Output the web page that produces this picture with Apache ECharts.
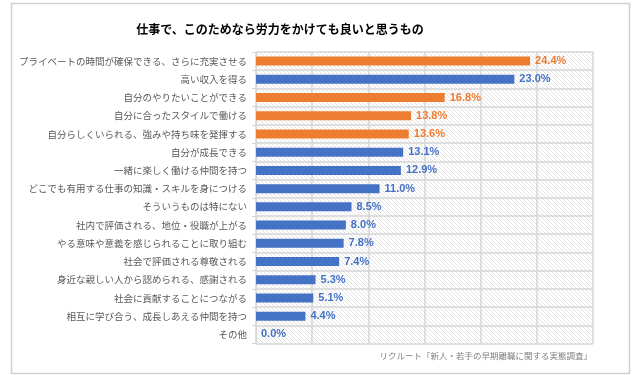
<!DOCTYPE html>
<html><head><meta charset="utf-8">
<script src="https://cdn.jsdelivr.net/npm/echarts@6/dist/echarts.min.js"></script>
<style>html,body{margin:0;padding:0;background:#fff}#c{width:632px;height:375px}</style>
</head><body><div id="c"></div>
<script>
const titleText = '仕事で、このためなら労力をかけても良いと思うもの';
const sourceText = 'リクルート「新人・若手の早期離職に関する実態調査」';
const categories = [
  'プライベートの時間が確保できる、さらに充実させる',
  '高い収入を得る',
  '自分のやりたいことができる',
  '自分に合ったスタイルで働ける',
  '自分らしくいられる、強みや持ち味を発揮する',
  '自分が成長できる',
  '一緒に楽しく働ける仲間を持つ',
  'どこでも有用する仕事の知識・スキルを身につける',
  'そういうものは特にない',
  '社内で評価される、地位・役職が上がる',
  'やる意味や意義を感じられることに取り組む',
  '社会で評価される尊敬される',
  '身近な親しい人から認められる、感謝される',
  '社会に貢献することにつながる',
  '相互に学び合う、成長しあえる仲間を持つ',
  'その他'
];
const values = [24.4, 23.0, 16.8, 13.8, 13.6, 13.1, 12.9, 11.0, 8.5, 8.0, 7.8, 7.4, 5.3, 5.1, 4.4, 0.0];
const highlighted = [true, false, true, true, true, false, false, false, false, false, false, false, false, false, false, false];
const xTicks = [0, 5, 10, 15, 20, 25, 30];

const ORANGE = '#ED7D31', BLUE = '#4472C4';
const pc = document.createElement('canvas');
pc.width = 4; pc.height = 4;
const g = pc.getContext('2d');
g.fillStyle = '#ffffff'; g.fillRect(0,0,4,4);
g.strokeStyle = '#e2e2e2'; g.lineWidth = 1;
g.beginPath(); g.moveTo(-1,-1); g.lineTo(5,5); g.moveTo(-1,3); g.lineTo(1,5); g.moveTo(3,-1); g.lineTo(5,1); g.stroke();

const chart = echarts.init(document.getElementById('c'), null, {renderer:'canvas'});
chart.setOption({
  animation: false,
  backgroundColor: '#fff',
  title: {
    text: titleText, left: 275, top: 18, textAlign: 'center',
    textStyle: {fontFamily: 'Noto Sans CJK JP', fontSize: 12, fontWeight: 'bold', color: '#000'}
  },
  graphic: [
    {type: 'rect', shape: {x: 11.5, y: 3.5, width: 618, height: 370}, style: {fill: 'none', stroke: '#d0d0d0', lineWidth: 1.5}, z: -1},
    {type: 'text', right: 40, top: 352, style: {text: sourceText, font: '8.5px "Noto Sans CJK JP"', fill: '#7f7f7f'}}
  ],
  grid: {left: 256, right: 39, top: 52, bottom: 31.5, show: true, borderWidth: 0,
         backgroundColor: {image: pc, repeat: 'repeat'}},
  xAxis: {
    type: 'value', min: xTicks[0], max: xTicks[xTicks.length-1], interval: 5,
    axisLabel: {show: false}, axisLine: {show: false}, axisTick: {show: false},
    splitLine: {show: true, lineStyle: {color: '#d6d6d6', width: 1.5}}
  },
  yAxis: {
    type: 'category', data: categories, inverse: true,
    axisLine: {show: true, lineStyle: {color: '#d6d6d6', width: 1}},
    axisTick: {show: true, length: 4, lineStyle: {color: '#d6d6d6'}},
    splitLine: {show: true, lineStyle: {color: '#d6d6d6', width: 1.5}},
    axisLabel: {margin: 9, fontFamily: 'Noto Sans CJK JP', fontSize: 9.5, color: '#595959'}
  },
  series: [{
    type: 'bar', barWidth: 9,
    data: values.map((v, i) => ({
      value: v,
      itemStyle: {color: highlighted[i] ? ORANGE : BLUE},
      label: {color: highlighted[i] ? ORANGE : BLUE}
    })),
    label: {
      show: true, position: 'right', distance: 5,
      fontFamily: 'Liberation Sans', fontWeight: 'bold', fontSize: 11,
      formatter: p => p.value.toFixed(1) + '%'
    }
  }]
});
</script></body></html>
